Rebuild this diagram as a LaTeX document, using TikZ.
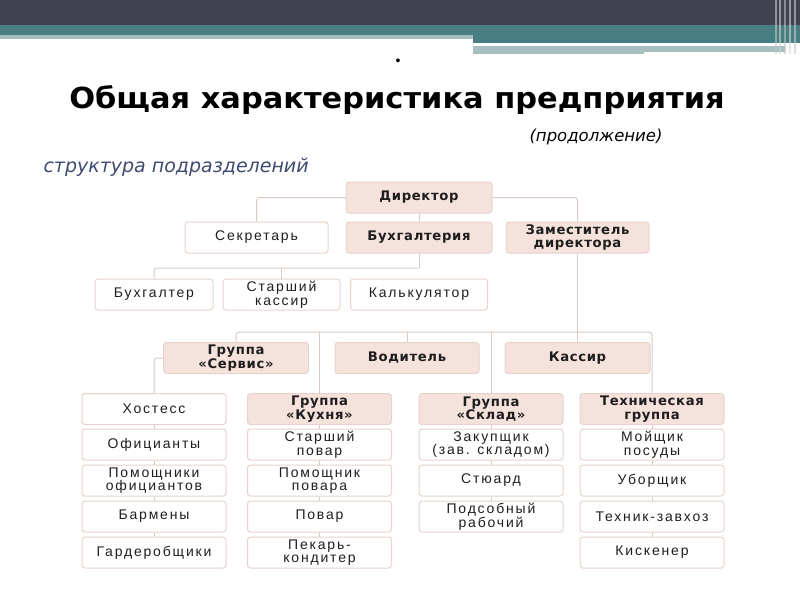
\documentclass[tikz,border=0pt]{standalone}
\usepackage{fontspec}
\setmainfont{Liberation Sans}
\newfontfamily\bxfont[LetterSpace=13]{Liberation Sans}
\newfontfamily\bbfont[LetterSpace=5]{DejaVu Sans}
\newfontfamily\ttlfont{DejaVu Sans}
\definecolor{darkbar}{HTML}{40424F}
\definecolor{tealbar}{HTML}{467E81}
\definecolor{lightbar}{HTML}{A8BFC0}
\definecolor{pinkfill}{HTML}{F6E2DC}
\definecolor{boxline}{HTML}{E6D3CC}
\definecolor{connline}{HTML}{D8CBC3}
\definecolor{bluetext}{HTML}{3E4B6E}
\definecolor{boxtext}{HTML}{1E1E1E}
\tikzset{
  box/.style={draw=boxline, line width=1pt, rounded corners=3pt, minimum height=31pt,
    inner sep=0.5pt, align=center, text=boxtext},
  wbox/.style={box, fill=white, font=\bxfont\fontsize{14}{13.6}\selectfont},
  pbox/.style={box, fill=pinkfill, font=\bbfont\bfseries\fontsize{13.2}{13.4}\selectfont},
  conn/.style={draw=connline, line width=1pt, rounded corners=3pt},
  colw/.style={minimum width=144pt}
}
\begin{document}
\begin{tikzpicture}[x=1pt,y=-1pt]
\useasboundingbox (0,0) rectangle (800,600);
% header bands
\fill[darkbar] (0,0) rectangle (800,25);
\fill[tealbar] (0,25) rectangle (800,35);
\fill[lightbar] (0,35) rectangle (473,39);
\fill[tealbar] (473,35) rectangle (800,43);
\fill[lightbar] (473,46) rectangle (644,54);
\fill[lightbar] (644,46) rectangle (785,52);
\fill[white] (473,43) rectangle (741,46);
\foreach \xx/\cc in {775/gray!45, 779/gray!35, 784/gray!50, 789/gray!30, 794/gray!40}
  \fill[\cc, opacity=0.6] (\xx,0) rectangle ++(1.5,54);
% bullet and titles
\node (bul) at (398,62) {\fontsize{14}{14}\selectfont\textbullet};
\node (ttl) at (397,100) {\scalebox{1.05}[1]{\ttlfont\bfseries\fontsize{29}{29}\selectfont Общая характеристика предприятия}};
\node[anchor=west] (cont) at (526,137) {\ttlfont\itshape\fontsize{16.5}{16.5}\selectfont (продолжение)};
\node[anchor=west, text=bluetext] (struct) at (40,167) {\ttlfont\itshape\fontsize{19}{19}\selectfont структура подразделений};

% top levels
\node[pbox, minimum width=146pt] (dir) at (419,197.5) {Директор};
\node[wbox, minimum width=143pt] (sec) at (256.5,237.5) {Секретарь};
\node[pbox, minimum width=146pt] (buh) at (419,237.5) {Бухгалтерия};
\node[pbox, minimum width=143pt] (zam) at (577.5,237.5) {Заместитель\\директора};
\node[wbox, minimum width=118pt] (bg) at (154,294.5) {Бухгалтер};
\node[wbox, minimum width=117pt] (sk) at (281.5,294.5) {Старший\\кассир};
\node[wbox, minimum width=137pt] (kal) at (419,294.5) {Калькулятор};
\node[pbox, minimum width=145pt] (serv) at (236,358) {Группа\\«Сервис»};
\node[pbox, minimum width=144pt] (vod) at (407,358) {Водитель};
\node[pbox, minimum width=145pt] (kas) at (577.5,358) {Кассир};

% columns
\node[wbox, colw] (c1a) at (154,409) {Хостесс};
\node[wbox, colw] (c1b) at (154,444.5) {Официанты};
\node[wbox, colw] (c1c) at (154,480.5) {Помощники\\официантов};
\node[wbox, colw] (c1d) at (154,516.5) {Бармены};
\node[wbox, colw] (c1e) at (154,552.5) {Гардеробщики};

\node[pbox, colw] (c2a) at (319.5,409) {Группа\\«Кухня»};
\node[wbox, colw] (c2b) at (319.5,444.5) {Старший\\повар};
\node[wbox, colw] (c2c) at (319.5,480.5) {Помощник\\повара};
\node[wbox, colw] (c2d) at (319.5,516.5) {Повар};
\node[wbox, colw] (c2e) at (319.5,552.5) {Пекарь-\\кондитер};

\node[pbox, colw] (c3a) at (491,409) {Группа\\«Склад»};
\node[wbox, colw] (c3b) at (491,444.5) {Закупщик\\(зав. складом)};
\node[wbox, colw] (c3c) at (491,480.5) {Стюард};
\node[wbox, colw] (c3d) at (491,516.5) {Подсобный\\рабочий};

\node[pbox, colw] (c4a) at (652,409) {Техническая\\группа};
\node[wbox, colw] (c4b) at (652,444.5) {Мойщик\\посуды};
\node[wbox, colw] (c4c) at (652,480.5) {Уборщик};
\node[wbox, colw] (c4d) at (652,516.5) {Техник-завхоз};
\node[wbox, colw] (c4e) at (652,552.5) {Кискенер};

% connectors
\draw[conn] (dir.west) -| (sec.north);
\draw[conn] (dir.east) -| (zam.north);
\draw[conn] (dir.south) -- (buh.north);
\coordinate (b1) at (419,268);
\draw[conn] (buh.south) -- (b1);
\draw[conn] (bg.north) |- (b1);
\draw[conn] (sk.north) -- (sk.north |- b1);
\draw[conn] (zam.south) -- (kas.north);
\coordinate (h1) at (236,332);
\coordinate (h2) at (652,332);
\draw[conn] (serv.north) -- (serv.north |- h1) -- (h2) -- (c4a.north);
\draw[conn] (c2a.north) -- (c2a.north |- h1);
\draw[conn] (vod.north) -- (vod.north |- h1);
\draw[conn] (c3a.north) -- (c3a.north |- h1);
\draw[conn] (serv.west) -| (c1a.north);
\foreach \a/\b in {c1a/c1b,c1b/c1c,c1c/c1d,c1d/c1e,c2a/c2b,c2b/c2c,c2c/c2d,c2d/c2e,c3a/c3b,c3b/c3c,c3c/c3d,c4a/c4b,c4b/c4c,c4c/c4d,c4d/c4e}
  \draw[conn] (\a.south) -- (\b.north);
\end{tikzpicture}
\end{document}
